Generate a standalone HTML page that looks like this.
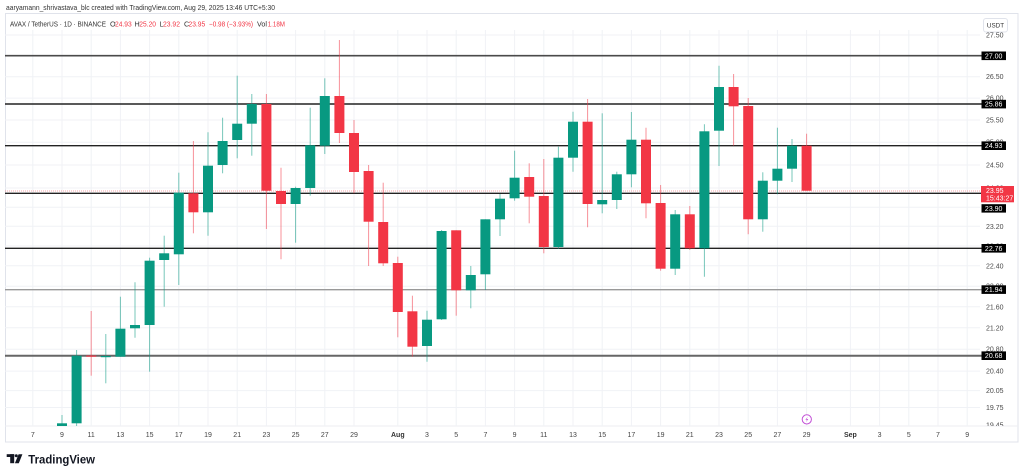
<!DOCTYPE html>
<html><head><meta charset="utf-8"><style>
html,body{margin:0;padding:0;background:#fff;}
svg{display:block;font-family:"Liberation Sans",sans-serif;}
</style></head><body>
<svg width="1024" height="476" viewBox="0 0 1024 476" xmlns="http://www.w3.org/2000/svg">
<rect width="1024" height="476" fill="#fff"/>
<!-- header -->
<text x="6" y="10" font-size="7.5" fill="#333" textLength="269" lengthAdjust="spacingAndGlyphs">aaryamann_shrivastava_blc created with TradingView.com, Aug 29, 2025 13:46 UTC+5:30</text>
<!-- frame -->
<rect x="5.5" y="13.5" width="1012.5" height="428.5" fill="none" stroke="#e0e3eb" stroke-width="1"/>
<line x1="5" y1="426" x2="1018" y2="426" stroke="#eceef2" stroke-width="1"/>
<!-- legend line -->
<g font-size="7.2" fill="#333">
<text x="10" y="26.6" textLength="96" lengthAdjust="spacingAndGlyphs">AVAX / TetherUS · 1D · BINANCE</text>
<text x="110" y="26.6">O</text><text x="115" y="26.6" fill="#F23645" textLength="16.7" lengthAdjust="spacingAndGlyphs">24.93</text>
<text x="134.5" y="26.6">H</text><text x="139.3" y="26.6" fill="#F23645" textLength="16.7" lengthAdjust="spacingAndGlyphs">25.20</text>
<text x="159.5" y="26.6">L</text><text x="163" y="26.6" fill="#F23645" textLength="17" lengthAdjust="spacingAndGlyphs">23.92</text>
<text x="184" y="26.6">C</text><text x="188.5" y="26.6" fill="#F23645" textLength="16.7" lengthAdjust="spacingAndGlyphs">23.95</text>
<text x="209" y="26.6" fill="#F23645" textLength="44" lengthAdjust="spacingAndGlyphs">−0.98 (−3.93%)</text>
<text x="257" y="26.6" textLength="10" lengthAdjust="spacingAndGlyphs">Vol</text><text x="267.7" y="26.6" fill="#F23645" textLength="17.3" lengthAdjust="spacingAndGlyphs">1.18M</text>
</g>
<!-- vertical grid -->
<g stroke="#f0f2f6" stroke-width="1">
<line x1="32.8" y1="30" x2="32.8" y2="426"/><line x1="62" y1="30" x2="62" y2="426"/><line x1="91.2" y1="30" x2="91.2" y2="426"/><line x1="120.4" y1="30" x2="120.4" y2="426"/><line x1="149.6" y1="30" x2="149.6" y2="426"/><line x1="178.8" y1="30" x2="178.8" y2="426"/><line x1="208" y1="30" x2="208" y2="426"/><line x1="237.2" y1="30" x2="237.2" y2="426"/><line x1="266.4" y1="30" x2="266.4" y2="426"/><line x1="295.6" y1="30" x2="295.6" y2="426"/><line x1="324.8" y1="30" x2="324.8" y2="426"/><line x1="354" y1="30" x2="354" y2="426"/><line x1="397.8" y1="30" x2="397.8" y2="426"/><line x1="427" y1="30" x2="427" y2="426"/><line x1="456.2" y1="30" x2="456.2" y2="426"/><line x1="485.4" y1="30" x2="485.4" y2="426"/><line x1="514.6" y1="30" x2="514.6" y2="426"/><line x1="543.8" y1="30" x2="543.8" y2="426"/><line x1="573" y1="30" x2="573" y2="426"/><line x1="602.2" y1="30" x2="602.2" y2="426"/><line x1="631.4" y1="30" x2="631.4" y2="426"/><line x1="660.6" y1="30" x2="660.6" y2="426"/><line x1="689.8" y1="30" x2="689.8" y2="426"/><line x1="719" y1="30" x2="719" y2="426"/><line x1="748.2" y1="30" x2="748.2" y2="426"/><line x1="777.4" y1="30" x2="777.4" y2="426"/><line x1="806.6" y1="30" x2="806.6" y2="426"/><line x1="850.4" y1="30" x2="850.4" y2="426"/><line x1="879.6" y1="30" x2="879.6" y2="426"/><line x1="908.8" y1="30" x2="908.8" y2="426"/><line x1="938" y1="30" x2="938" y2="426"/><line x1="967.2" y1="30" x2="967.2" y2="426"/>
</g>
<!-- horizontal grid -->
<g stroke="#f0f2f6" stroke-width="1">
<line x1="5" y1="35" x2="980" y2="35"/><line x1="5" y1="76.7" x2="980" y2="76.7"/><line x1="5" y1="98.1" x2="980" y2="98.1"/><line x1="5" y1="120" x2="980" y2="120"/><line x1="5" y1="142.2" x2="980" y2="142.2"/><line x1="5" y1="165" x2="980" y2="165"/><line x1="5" y1="188" x2="980" y2="188"/><line x1="5" y1="207.2" x2="980" y2="207.2"/><line x1="5" y1="226.3" x2="980" y2="226.3"/><line x1="5" y1="246" x2="980" y2="246"/><line x1="5" y1="265.8" x2="980" y2="265.8"/><line x1="5" y1="286.2" x2="980" y2="286.2"/><line x1="5" y1="306.8" x2="980" y2="306.8"/><line x1="5" y1="327.8" x2="980" y2="327.8"/><line x1="5" y1="349.2" x2="980" y2="349.2"/><line x1="5" y1="371.1" x2="980" y2="371.1"/><line x1="5" y1="390.6" x2="980" y2="390.6"/><line x1="5" y1="407.5" x2="980" y2="407.5"/>
</g>
<!-- current price dotted line -->
<line x1="5" y1="191" x2="981" y2="191" stroke="#F23645" stroke-opacity="0.45" stroke-width="1" stroke-dasharray="1,1"/>
<!-- level lines -->
<line x1="5" y1="55.7" x2="982" y2="55.7" stroke="#4a4a4a" stroke-width="1.7"/>
<line x1="5" y1="104" x2="982" y2="104" stroke="#222" stroke-width="1.4"/>
<line x1="5" y1="145.7" x2="982" y2="145.7" stroke="#222" stroke-width="1.4"/>
<line x1="5" y1="193.3" x2="982" y2="193.3" stroke="#222" stroke-width="1.4"/>
<line x1="5" y1="248.3" x2="982" y2="248.3" stroke="#222" stroke-width="1.4"/>
<line x1="5" y1="289.7" x2="982" y2="289.7" stroke="#999" stroke-width="1.4"/>
<line x1="5" y1="355.7" x2="982" y2="355.7" stroke="#666" stroke-width="2"/>
<!-- wicks -->
<g stroke="#089981" stroke-opacity="0.55" stroke-width="1">
<line x1="62" y1="415" x2="62" y2="426"/><line x1="76.6" y1="350" x2="76.6" y2="426"/><line x1="105.8" y1="334" x2="105.8" y2="383.3"/><line x1="120.4" y1="296.7" x2="120.4" y2="356.7"/><line x1="135" y1="282.3" x2="135" y2="337.7"/><line x1="149.6" y1="257.7" x2="149.6" y2="371.7"/><line x1="164.2" y1="235.7" x2="164.2" y2="306.7"/><line x1="178.8" y1="172.7" x2="178.8" y2="285"/><line x1="208" y1="132.3" x2="208" y2="235.7"/><line x1="222.6" y1="117.7" x2="222.6" y2="173.3"/><line x1="237.2" y1="75.7" x2="237.2" y2="158.3"/><line x1="251.8" y1="94" x2="251.8" y2="155.7"/><line x1="295.6" y1="186.7" x2="295.6" y2="242.7"/><line x1="310.2" y1="107.7" x2="310.2" y2="195.7"/><line x1="324.8" y1="78.3" x2="324.8" y2="154"/><line x1="427" y1="310.7" x2="427" y2="361.7"/><line x1="441.6" y1="230" x2="441.6" y2="320"/><line x1="470.8" y1="266" x2="470.8" y2="308.3"/><line x1="485.4" y1="219.3" x2="485.4" y2="290"/><line x1="500" y1="194" x2="500" y2="236"/><line x1="514.6" y1="150.7" x2="514.6" y2="200.7"/><line x1="558.4" y1="146.7" x2="558.4" y2="249"/><line x1="573" y1="111.7" x2="573" y2="171.7"/><line x1="602.2" y1="113.3" x2="602.2" y2="213.3"/><line x1="616.8" y1="171.7" x2="616.8" y2="209"/><line x1="631.4" y1="112" x2="631.4" y2="187.3"/><line x1="675.2" y1="210" x2="675.2" y2="275"/><line x1="704.4" y1="124.3" x2="704.4" y2="276.7"/><line x1="719" y1="65.7" x2="719" y2="166"/><line x1="762.8" y1="172.3" x2="762.8" y2="231.7"/><line x1="777.4" y1="127.7" x2="777.4" y2="194.3"/><line x1="792" y1="139" x2="792" y2="182"/>
</g>
<g stroke="#F23645" stroke-opacity="0.55" stroke-width="1">
<line x1="91.2" y1="311" x2="91.2" y2="375.7"/><line x1="193.4" y1="141" x2="193.4" y2="233.3"/><line x1="266.4" y1="94" x2="266.4" y2="229"/><line x1="281" y1="167.7" x2="281" y2="259.3"/><line x1="339.4" y1="40" x2="339.4" y2="143"/><line x1="354" y1="120" x2="354" y2="193.3"/><line x1="368.6" y1="165" x2="368.6" y2="266"/><line x1="383.2" y1="182.7" x2="383.2" y2="266"/><line x1="397.8" y1="256.7" x2="397.8" y2="337.3"/><line x1="412.4" y1="295.7" x2="412.4" y2="356.7"/><line x1="456.2" y1="230.3" x2="456.2" y2="315.7"/><line x1="529.2" y1="163.3" x2="529.2" y2="223.3"/><line x1="543.8" y1="159" x2="543.8" y2="253.3"/><line x1="587.6" y1="99" x2="587.6" y2="227.3"/><line x1="646" y1="127.7" x2="646" y2="218.3"/><line x1="660.6" y1="185" x2="660.6" y2="270.7"/><line x1="689.8" y1="206" x2="689.8" y2="250"/><line x1="733.6" y1="74" x2="733.6" y2="145.7"/><line x1="748.2" y1="98" x2="748.2" y2="234.3"/><line x1="806.6" y1="133.7" x2="806.6" y2="190.7"/>
</g>
<!-- bodies -->
<g fill="#089981">
<rect x="57" y="423.3" width="10" height="2.7"/><rect x="71.6" y="355.7" width="10" height="67.6"/><rect x="100.8" y="356" width="10" height="1.2"/><rect x="115.4" y="328.7" width="10" height="28"/><rect x="130" y="325" width="10" height="3.3"/><rect x="144.6" y="260.7" width="10" height="64.3"/><rect x="159.2" y="253.3" width="10" height="6.7"/><rect x="173.8" y="192.7" width="10" height="61.6"/><rect x="203" y="165.7" width="10" height="46.6"/><rect x="217.6" y="141" width="10" height="24"/><rect x="232.2" y="123.7" width="10" height="16.3"/><rect x="246.8" y="104" width="10" height="19.7"/><rect x="290.6" y="188" width="10" height="16"/><rect x="305.2" y="145.3" width="10" height="42.7"/><rect x="319.8" y="96" width="10" height="49.7"/><rect x="422" y="319.7" width="10" height="26.3"/><rect x="436.6" y="231" width="10" height="88.3"/><rect x="465.8" y="275" width="10" height="15.3"/><rect x="480.4" y="219.3" width="10" height="55"/><rect x="495" y="198.7" width="10" height="20.6"/><rect x="509.6" y="177.7" width="10" height="20.6"/><rect x="553.4" y="157.7" width="10" height="89.3"/><rect x="568" y="121.7" width="10" height="36"/><rect x="597.2" y="200" width="10" height="4.3"/><rect x="611.8" y="174.3" width="10" height="25.7"/><rect x="626.4" y="139.7" width="10" height="34.6"/><rect x="670.2" y="214.3" width="10" height="54.4"/><rect x="699.4" y="131.3" width="10" height="117"/><rect x="714" y="87" width="10" height="43.7"/><rect x="757.8" y="180.7" width="10" height="38.6"/><rect x="772.4" y="168.7" width="10" height="12"/><rect x="787" y="145.7" width="10" height="23"/>
</g>
<g fill="#F23645">
<rect x="86.2" y="355.5" width="10" height="1.2"/><rect x="188.4" y="193.3" width="10" height="19"/><rect x="261.4" y="104" width="10" height="86.7"/><rect x="276" y="191" width="10" height="13"/><rect x="334.4" y="96" width="10" height="37"/><rect x="349" y="133" width="10" height="39"/><rect x="363.6" y="171" width="10" height="50.7"/><rect x="378.2" y="222" width="10" height="41.3"/><rect x="392.8" y="263" width="10" height="49"/><rect x="407.4" y="311.3" width="10" height="35.4"/><rect x="451.2" y="230.3" width="10" height="60"/><rect x="524.2" y="177" width="10" height="19.7"/><rect x="538.8" y="196" width="10" height="51"/><rect x="582.6" y="121.7" width="10" height="82.3"/><rect x="641" y="139.7" width="10" height="63.6"/><rect x="655.6" y="203" width="10" height="65.7"/><rect x="684.8" y="214.3" width="10" height="34"/><rect x="728.6" y="87" width="10" height="19.3"/><rect x="743.2" y="106" width="10" height="113.3"/><rect x="801.6" y="145.7" width="10" height="45"/>
</g>
<!-- lightning icon -->
<circle cx="806.8" cy="419.4" r="4.6" fill="#fff" stroke="#c24fd6" stroke-width="1"/>
<path d="M807.8 416.6 L805.4 419.8 L807 419.8 L805.9 422.3 L808.3 419 L806.7 419 Z" fill="#c24fd6"/>
<!-- price axis labels -->
<svg x="0" y="14" width="1024" height="412" overflow="hidden">
<g font-size="7" fill="#4a4a4a" transform="translate(0,-14)">
<text x="986" y="37.5">27.50</text><text x="986" y="79.2">26.50</text><text x="986" y="100.6">26.00</text><text x="986" y="122.5">25.50</text><text x="986" y="144.7">25.00</text><text x="986" y="167.5">24.50</text><text x="986" y="190.5">24.00</text><text x="986" y="209.7">23.60</text><text x="986" y="228.8">23.20</text><text x="986" y="248.5">22.80</text><text x="986" y="268.3">22.40</text><text x="986" y="288.7">22.00</text><text x="986" y="309.3">21.60</text><text x="986" y="330.3">21.20</text><text x="986" y="351.7">20.80</text><text x="986" y="373.6">20.40</text><text x="986" y="393.1">20.05</text><text x="986" y="410">19.75</text><text x="986" y="427.3">19.45</text>
</g>
</svg>
<!-- USDT box -->
<rect x="983.5" y="18.5" width="24" height="13.5" rx="2.5" fill="#fff" stroke="#e0e3eb"/>
<text x="995.5" y="27.5" font-size="6.3" fill="#333" text-anchor="middle">USDT</text>
<!-- level label boxes -->
<g fill="#000">
<rect x="981.5" y="51.5" width="24.5" height="8.6"/><rect x="981.5" y="99.8" width="24.5" height="8.6"/><rect x="981.5" y="141.4" width="24.5" height="8.6"/><rect x="981.5" y="204.2" width="24.5" height="8.4"/><rect x="981.5" y="244" width="24.5" height="8.6"/><rect x="981.5" y="285.3" width="24.5" height="8.6"/><rect x="981.5" y="351.4" width="24.5" height="8.6"/>
</g>
<g font-size="7" fill="#fff" text-anchor="middle">
<text x="993.7" y="58.3">27.00</text><text x="993.7" y="106.6">25.86</text><text x="993.7" y="148.2">24.93</text><text x="993.7" y="210.9">23.90</text><text x="993.7" y="250.8">22.76</text><text x="993.7" y="292.1">21.94</text><text x="993.7" y="358.2">20.68</text>
</g>
<rect x="981" y="186" width="33" height="16.3" fill="#F23645"/>
<text x="986" y="192.8" font-size="7" fill="#fff">23.95</text>
<text x="986" y="200.6" font-size="7" fill="#fff">15:43:27</text>
<!-- date labels -->
<g font-size="7" fill="#444" text-anchor="middle">
<text x="32.8" y="436.8">7</text><text x="62" y="436.8">9</text><text x="91.2" y="436.8">11</text><text x="120.4" y="436.8">13</text><text x="149.6" y="436.8">15</text><text x="178.8" y="436.8">17</text><text x="208" y="436.8">19</text><text x="237.2" y="436.8">21</text><text x="266.4" y="436.8">23</text><text x="295.6" y="436.8">25</text><text x="324.8" y="436.8">27</text><text x="354" y="436.8">29</text><text x="397.8" y="436.8" font-weight="bold" fill="#333">Aug</text><text x="427" y="436.8">3</text><text x="456.2" y="436.8">5</text><text x="485.4" y="436.8">7</text><text x="514.6" y="436.8">9</text><text x="543.8" y="436.8">11</text><text x="573" y="436.8">13</text><text x="602.2" y="436.8">15</text><text x="631.4" y="436.8">17</text><text x="660.6" y="436.8">19</text><text x="689.8" y="436.8">21</text><text x="719" y="436.8">23</text><text x="748.2" y="436.8">25</text><text x="777.4" y="436.8">27</text><text x="806.6" y="436.8">29</text><text x="850.4" y="436.8" font-weight="bold" fill="#333">Sep</text><text x="879.6" y="436.8">3</text><text x="908.8" y="436.8">5</text><text x="938" y="436.8">7</text><text x="967.2" y="436.8">9</text>
</g>
<!-- TradingView logo -->
<g fill="#131722">
<rect x="6.7" y="454.2" width="7.5" height="2.8"/>
<rect x="10.2" y="454.2" width="4" height="9"/>
<circle cx="16.3" cy="455.7" r="1.5"/>
<path d="M18.6 454.2 L22.4 454.2 L18.8 463.2 L14.9 463.2 Z"/>
</g>
<text x="28.3" y="463.3" font-size="11.5" font-weight="bold" fill="#131722" textLength="66.7" lengthAdjust="spacingAndGlyphs">TradingView</text>
</svg>
</body></html>
